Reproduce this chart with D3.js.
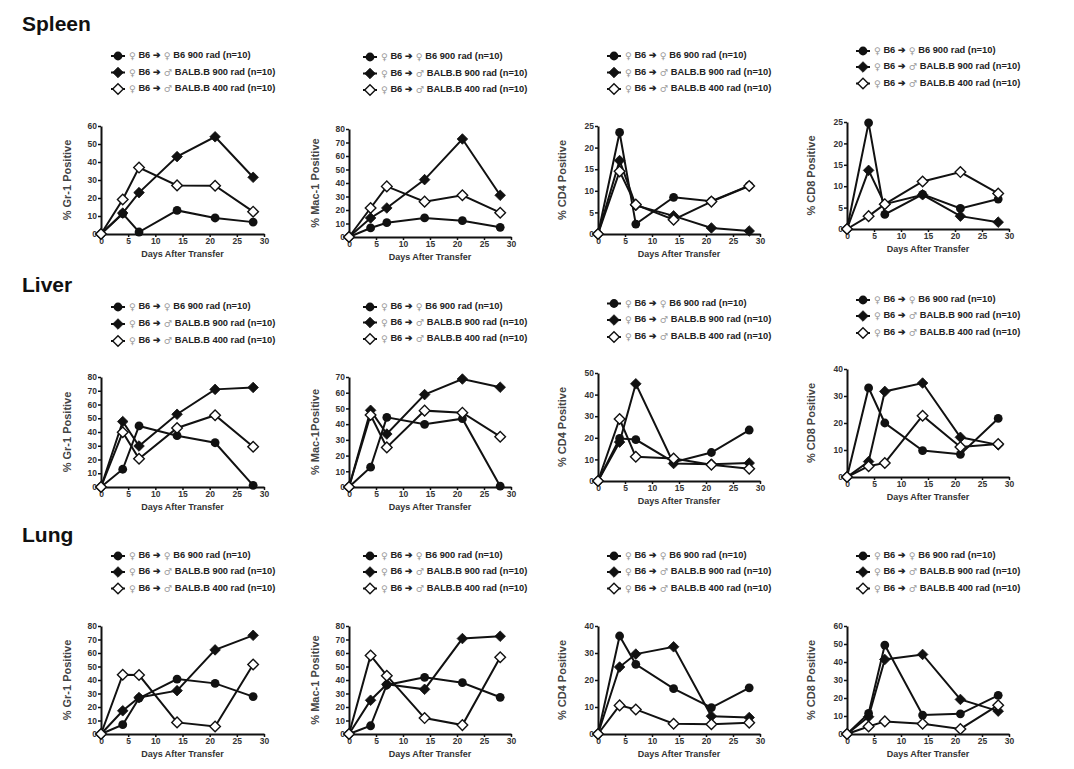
<!DOCTYPE html>
<html><head><meta charset="utf-8">
<script src="https://cdn.jsdelivr.net/npm/d3@7"></script>
<style>
body{margin:0;background:#fff}
text{font-family:Arial,"Liberation Sans",sans-serif;font-weight:bold}
</style>
</head><body>
<svg id="c" width="1074" height="769"></svg>
<script>
// ---------- DATA ----------
const days = [0, 4, 7, 14, 21, 28];
const xTicks = [0, 5, 10, 15, 20, 25, 30];
const rowTitles = ["Spleen", "Liver", "Lung"];
const yLabels = ["% Gr-1 Positive", "% Mac-1 Positive", "% CD4 Positive", "% CD8 Positive",
                 "% Gr-1 Positive", "% Mac-1Positive", "% CD4 Positive", "% CD8 Positive",
                 "% Gr-1 Positive", "% Mac-1 Positive", "% CD4 Positive", "% CD8 Positive"];
const xLabel = "Days After Transfer";
// legend label parts: [female-symbol, text, arrow, sex-symbol, text]
const legendParts = [
  ["♀", " B6 ", "➔", " ♀", " B6 900 rad (n=10)"],
  ["♀", " B6 ", "➔", " ♂", " BALB.B 900 rad (n=10)"],
  ["♀", " B6 ", "➔", " ♂", " BALB.B 400 rad (n=10)"]
];
const yMax  = [60, 80, 25, 25, 80, 70, 50, 40, 80, 80, 40, 60];
const yStep = [10, 10, 5, 5, 10, 10, 10, 10, 10, 10, 10, 10];

// series order: B6->B6 900 (filled circle), B6->BALB.B 900 (filled diamond), B6->BALB.B 400 (open diamond)
const spleenGr1  = [[0,11.3,1.1,13.1,8.9,6.6], [0,11.6,23,43,54,31.5], [0,19.2,36.9,27,26.8,12.4]];
const spleenMac1 = [[0,6.7,10.6,14.1,12.1,7.2], [0,14.1,21.5,42.5,72.6,30.9], [0,21.5,37.5,26.2,30.9,18]];
const spleenCD4  = [[0,23.5,2.3,8.5,7.6,11.2], [0,17,6.6,4.2,1.4,0.7], [0,14.5,6.8,3.3,7.5,11.1]];
const spleenCD8  = [[0,24.8,3.4,8.1,4.8,7.0], [0,13.7,5.8,8,3,1.6], [0,3,5.8,11.1,13.3,8.3]];
const liverGr1   = [[0,12.9,44.4,37.3,32.2,1.2], [0,47.6,29.8,52.9,71,72.4], [0,39.8,20.5,42.9,52.2,29.3]];
const liverMac1  = [[0,12.6,44.3,39.9,43.5,0.5], [0,48.8,33.7,58.8,68.7,63.5], [0,45.8,25.2,48.6,47.3,32]];
const liverCD4   = [[0,19.7,19.2,8.7,13.2,23.6], [0,18,45,8.1,7.8,8.3], [0,28.7,11.2,10.4,7.5,5.7]];
const liverCD8   = [[0,33,20,9.8,8.4,21.7], [0,5.7,31.7,34.8,14.7,11.9], [0,4,5.2,22.7,11.1,12.2]];
const lungGr1    = [[0,6.9,26.5,40.7,37.5,27.7], [0,17.2,27,32.1,62.3,73.1], [0,43.9,43.7,8.6,5.6,51.5]];
const lungMac1   = [[0,6.1,36.3,42,38,27.2], [0,25,36.8,33.1,70.7,72.4], [0,58.2,43.2,11.8,6.6,56.9]];
const lungCD4    = [[0,36.3,25.8,16.8,9.8,17.1], [0,24.8,29.6,32.3,6.6,6.1], [0,10.6,9.1,3.8,3.6,4.2]];
const lungCD8    = [[0,11.4,49.4,10.5,11.2,21.5], [0,9.6,41.4,44.2,19.2,12.7], [0,4.2,7,5.7,2.8,16]];
const panelData = [spleenGr1, spleenMac1, spleenCD4, spleenCD8,
                   liverGr1, liverMac1, liverCD4, liverCD8,
                   lungGr1, lungMac1, lungCD4, lungCD8];

// ---------- LAYOUT ----------
const colX = [[101, 264], [349, 511], [598, 760], [847, 1009]];
const colYT = [68, 316, 563, 812];
const colLegX = [118, 370, 614, 863];
const panelY = [[234,126],[237,129],[234,126],[229,122],
                [487,377],[487,377],[481,373],[477,369],
                [734,626],[734,626],[734,626],[734,626]];
const legY = [[56,72.5,89],[57,73.5,90],[56,72.5,89],[51,67,83.5],
              [307,324,341],[307,322.5,339],[303.5,320,337],[300,316,333],
              [556,572,588.5],[556,572,588.5],[556,572,588.5],[556,572,588.5]];
const rowTitleY = [31, 292, 542];

const svg = d3.select("#c");
const ink = "#111";

rowTitles.forEach((t, i) => {
  svg.append("text").attr("x", 22).attr("y", rowTitleY[i]).text(t)
    .attr("font-size", 21).attr("fill", "#111");
});

function marker(sel, k, cx, cy) {
  if (k === 0) {
    sel.append("circle").attr("cx", cx).attr("cy", cy).attr("r", 4.4).attr("fill", ink);
  } else {
    const h = 5.3;
    sel.append("path")
      .attr("d", `M${cx},${cy - h}L${cx + h},${cy}L${cx},${cy + h}L${cx - h},${cy}Z`)
      .attr("fill", k === 1 ? ink : "#fff").attr("stroke", ink).attr("stroke-width", k === 1 ? 0.8 : 1.4);
  }
}

panelData.forEach((series, i) => {
  const col = i % 4;
  const [x0, x1] = colX[col];
  const [y0, y1] = panelY[i];
  const x = d3.scaleLinear().domain([0, 30]).range([x0, x1]);
  const y = d3.scaleLinear().domain([0, yMax[i]]).range([y0, y1]);
  const g = svg.append("g");

  const xa = g.append("g").attr("transform", `translate(0,${y0})`)
    .call(d3.axisBottom(x).tickValues(xTicks).tickSize(3).tickSizeOuter(0).tickPadding(1));
  const ya = g.append("g").attr("transform", `translate(${x0},0)`)
    .call(d3.axisLeft(y).tickValues(d3.range(0, yMax[i] + 0.001, yStep[i])).tickSize(3).tickSizeOuter(0).tickPadding(1));
  [xa, ya].forEach(a => {
    a.select(".domain").attr("stroke", ink).attr("stroke-width", 2);
    a.selectAll(".tick line").attr("stroke", ink).attr("stroke-width", 1.5);
    a.selectAll(".tick text").attr("font-size", 8.5).attr("fill", "#333")
      .attr("font-family", "Arial, 'Liberation Sans', sans-serif").attr("font-weight", "bold");
  });

  // axis titles
  g.append("text").attr("x", (x0 + x1) / 2).attr("y", y0 + 23).attr("text-anchor", "middle")
    .attr("font-size", 9).attr("fill", "#333").text(xLabel);
  g.append("text").attr("transform", `translate(${colYT[col]},${(y0 + y1) / 2}) rotate(-90)`)
    .attr("text-anchor", "middle").attr("dominant-baseline", "middle")
    .attr("font-size", 11).attr("fill", "#444").text(yLabels[i]);

  // lines
  const line = d3.line().x((d, j) => x(days[j])).y(d => y(d));
  series.forEach(s => {
    g.append("path").attr("d", line(s)).attr("fill", "none").attr("stroke", ink).attr("stroke-width", 2);
  });
  // markers
  series.forEach((s, k) => {
    s.forEach((v, j) => marker(g, k, x(days[j]), y(v)));
  });

  // legend
  const lx = colLegX[col];
  legendParts.forEach((parts, k) => {
    const ly = legY[i][k];
    g.append("line").attr("x1", lx - 7).attr("x2", lx + 7).attr("y1", ly).attr("y2", ly)
      .attr("stroke", ink).attr("stroke-width", 2);
    marker(g, k, lx, ly);
    const t = g.append("text").attr("x", lx + 11).attr("y", ly).attr("dominant-baseline", "middle")
      .attr("font-size", 9.3).attr("fill", "#222");
    parts.forEach((p, m) => {
      const sym = (m === 0 || m === 3);
      t.append("tspan").text(p).attr("fill", sym ? "#999" : "#222")
        .attr("font-family", sym ? "'DejaVu Sans', sans-serif" : null)
        .attr("font-weight", sym ? "normal" : "bold");
    });
  });
});
</script>
</body></html>
